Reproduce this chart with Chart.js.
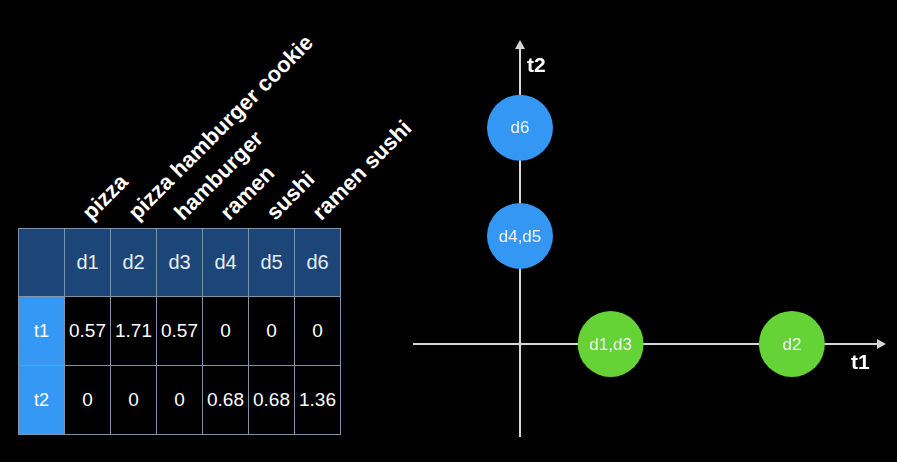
<!DOCTYPE html>
<html>
<head>
<meta charset="utf-8">
<script src="https://cdn.jsdelivr.net/npm/chart.js@4/dist/chart.umd.min.js"></script>
<style>
  html, body { margin: 0; padding: 0; background: #000; }
  body { width: 897px; height: 462px; position: relative; overflow: hidden; font-family: "Liberation Sans", Arial, Helvetica, sans-serif; }
  #tfidf { position: absolute; left: 18px; top: 228px; border-collapse: collapse; table-layout: fixed; }
  #tfidf td { border: 1px solid #7f93ab; width: 45px; padding: 0; text-align: center; color: #fff; font-size: 19px; }
  #tfidf tr.head td { background: #1b4677; height: 67px; font-size: 20px; color: #e6ecf3; }
  #tfidf tr.row td { background: #000; height: 68px; }
  #tfidf tr.row td.term { background: #3598f4; font-size: 18px; }
  .word { position: absolute; height: 22px; line-height: 22px; font-size: 22px; font-weight: bold; color: #fff; white-space: nowrap; transform-origin: 0 100%; transform: rotate(-45deg); }
  #chartBox { position: absolute; left: 400px; top: 20px; width: 497px; height: 432px; }
</style>
</head>
<body>
<table id="tfidf"></table>
<div id="words"></div>
<div id="chartBox"><canvas id="vsm"></canvas></div>
<script>
// documents, their words and the tf-idf weights of the two terms
const docs = ["d1", "d2", "d3", "d4", "d5", "d6"];
const docWords = ["pizza", "pizza hamburger cookie", "hamburger", "ramen", "sushi", "ramen sushi"];
const terms = ["t1", "t2"];
const t1Vals = [0.57, 1.71, 0.57, 0, 0, 0];
const t2Vals = [0, 0, 0, 0.68, 0.68, 1.36];

(() => {
  const $ = sel => document.querySelector(sel);

  // ===== Table =====
  const table = $("#tfidf");
  const head = document.createElement("tr");
  head.className = "head";
  head.appendChild(document.createElement("td"));
  docs.forEach(d => {
    const td = document.createElement("td");
    td.textContent = d;
    head.appendChild(td);
  });
  table.appendChild(head);
  [t1Vals, t2Vals].forEach((vals, i) => {
    const tr = document.createElement("tr");
    tr.className = "row";
    const th = document.createElement("td");
    th.className = "term";
    th.textContent = terms[i];
    tr.appendChild(th);
    vals.forEach(v => {
      const td = document.createElement("td");
      td.textContent = String(v);
      tr.appendChild(td);
    });
    table.appendChild(tr);
  });

  // rotated words above each doc column
  const words = $("#words");
  docWords.forEach((w, i) => {
    const el = document.createElement("div");
    el.className = "word";
    el.textContent = w;
    el.style.left = (94 + i * 46) + "px";
    el.style.top = (224 - 22) + "px";
    words.appendChild(el);
  });

  // ===== Vector space plot =====
  // merge docs sitting on the same point ("d1,d3" etc.)
  const groups = [];
  docs.forEach((d, i) => {
    const g = groups.find(g => g.x === t1Vals[i] && g.y === t2Vals[i]);
    if (g) g.names.push(d);
    else groups.push({ x: t1Vals[i], y: t2Vals[i], names: [d] });
  });

  const BLUE = "#3597f4";
  const GREEN = "#65d236";
  const AXIS = "#d6d6d6";
  const PX_PER_UNIT = 159;

  const axesPlugin = {
    id: "axes",
    beforeDatasetsDraw(chart) {
      const { ctx, chartArea: a, scales: { x, y } } = chart;
      const x0 = x.getPixelForValue(0), y0 = y.getPixelForValue(0);
      ctx.save();
      ctx.strokeStyle = AXIS;
      ctx.fillStyle = AXIS;
      ctx.lineWidth = 2;
      ctx.beginPath();
      ctx.moveTo(a.left, y0); ctx.lineTo(a.right - 6, y0);
      ctx.moveTo(x0, a.bottom); ctx.lineTo(x0, a.top + 6);
      ctx.stroke();
      // arrow heads
      ctx.beginPath();
      ctx.moveTo(a.right, y0); ctx.lineTo(a.right - 9, y0 - 5); ctx.lineTo(a.right - 9, y0 + 5); ctx.closePath();
      ctx.moveTo(x0, a.top); ctx.lineTo(x0 - 5, a.top + 9); ctx.lineTo(x0 + 5, a.top + 9); ctx.closePath();
      ctx.fill();
      // axis names
      ctx.fillStyle = "#fff";
      ctx.font = "bold 21px 'Liberation Sans', Arial, sans-serif";
      ctx.textBaseline = "middle";
      ctx.textAlign = "left";
      ctx.fillText(terms[0], a.right - 35, y0 + 19);
      ctx.fillText(terms[1], x0 + 7, a.top + 26);
      ctx.restore();
    },
    afterDatasetsDraw(chart) {
      const { ctx } = chart;
      const meta = chart.getDatasetMeta(0);
      ctx.save();
      ctx.fillStyle = "#f4f4f4";
      ctx.font = "17px 'Liberation Sans', Arial, sans-serif";
      ctx.textAlign = "center";
      ctx.textBaseline = "middle";
      meta.data.forEach((el, i) => ctx.fillText(groups[i].names.join(","), el.x, el.y + 1));
      ctx.restore();
    }
  };

  // chart area spans 413..886 x 40..437 on the page, origin at (520,344)
  new Chart($("#vsm").getContext("2d"), {
    type: "bubble",
    data: {
      datasets: [{
        data: groups.map(g => ({ x: g.x, y: g.y, r: 33 })),
        backgroundColor: groups.map(g => g.y === 0 ? GREEN : BLUE),
        borderWidth: 0,
        hoverRadius: 0,
        clip: false
      }]
    },
    options: {
      responsive: true,
      maintainAspectRatio: false,
      animation: false,
      layout: { autoPadding: false, padding: { left: 13, right: 11, top: 20, bottom: 15 } },
      scales: {
        x: { display: false, min: -107 / PX_PER_UNIT, max: 366 / PX_PER_UNIT },
        y: { display: false, min: -93 / PX_PER_UNIT, max: 304 / PX_PER_UNIT }
      },
      plugins: { legend: { display: false }, tooltip: { enabled: false } }
    },
    plugins: [axesPlugin]
  });
})();
</script>
</body>
</html>
